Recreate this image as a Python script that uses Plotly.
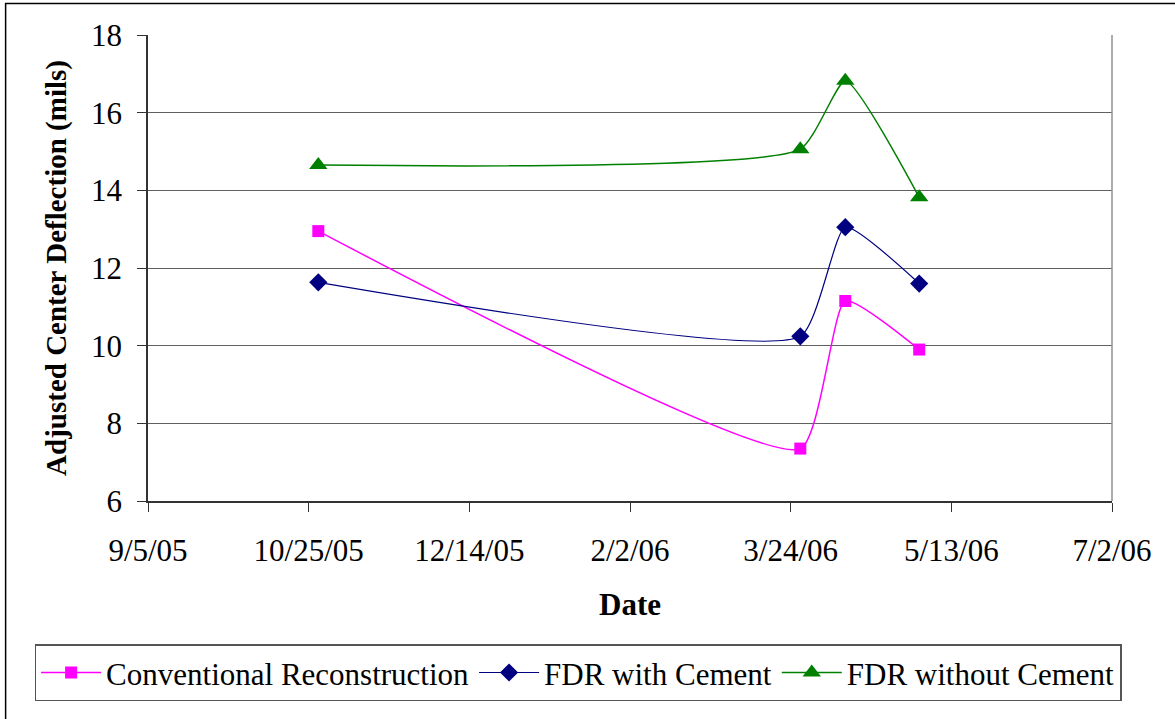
import plotly.graph_objects as go

dates = ["2005-10-28", "2006-03-27", "2006-04-10", "2006-05-03"]
conventional = [12.95, 7.35, 11.15, 9.9]
fdr_cement = [11.63, 10.24, 13.05, 11.6]
fdr_no_cement = [14.65, 15.06, 16.82, 13.82]

tick_dates = ["2005-09-05", "2005-10-25", "2005-12-14", "2006-02-02",
              "2006-03-24", "2006-05-13", "2006-07-02"]
tick_labels = ["9/5/05", "10/25/05", "12/14/05", "2/2/06",
               "3/24/06", "5/13/06", "7/2/06"]
y_ticks = [6, 8, 10, 12, 14, 16, 18]

FONT = "Liberation Serif"
SMOOTH = 0.5

fig = go.Figure()
fig.add_trace(go.Scatter(
    x=dates, y=conventional, name="Conventional Reconstruction",
    mode="lines+markers",
    line=dict(color="#FF00FF", width=1.5, shape="spline", smoothing=SMOOTH),
    marker=dict(symbol="square", size=12, color="#FF00FF")))
fig.add_trace(go.Scatter(
    x=dates, y=fdr_cement, name="FDR with Cement",
    mode="lines+markers",
    line=dict(color="#000080", width=1.2, shape="spline", smoothing=SMOOTH),
    marker=dict(symbol="diamond", size=14, color="#000080")))
fig.add_trace(go.Scatter(
    x=dates, y=fdr_no_cement, name="FDR without Cement",
    mode="lines+markers",
    line=dict(color="#008000", width=1.5, shape="spline", smoothing=SMOOTH),
    marker=dict(symbol="triangle-up", size=16, color="#008000")))

L, R, T, B = 147.5, 1112.3, 34.5, 501.0
W, H = 1175, 719
pw, ph = R - L, B - T

fig.update_layout(
    width=W, height=H,
    margin=dict(l=L, r=W - R, t=T, b=H - B, pad=0),
    paper_bgcolor="white", plot_bgcolor="white",
    font=dict(family=FONT, size=31, color="black"),
    showlegend=True,
    legend=dict(orientation="h", x=(34 - L) / pw, y=(B - 644.5) / ph,
                xanchor="left", yanchor="top",
                bordercolor="#555555", borderwidth=1.5,
                font=dict(family=FONT, size=31),
                tracegroupgap=0, itemwidth=60),
    xaxis=dict(type="date", range=["2005-09-05", "2006-07-02"],
               tickvals=tick_dates, ticktext=tick_labels,
               ticks="outside", ticklen=9, tickcolor="#333333",
               ticklabelstandoff=12,
               showgrid=False, zeroline=False,
               showline=True, linecolor="#333333", linewidth=1.5,
               mirror=False,
               title=dict(text="<b>Date</b>", font=dict(family=FONT, size=31), standoff=26),
               tickfont=dict(family=FONT, size=31)),
    yaxis=dict(range=[6, 18], tickvals=y_ticks,
               ticks="outside", ticklen=9, tickcolor="#333333",
               ticklabelstandoff=9,
               showgrid=True, gridcolor="#606060", gridwidth=1,
               zeroline=False, showline=True, linecolor="#333333", linewidth=1.5,
               title=dict(text="<b>Adjusted Center Deflection (mils)</b>",
                          font=dict(family=FONT, size=29), standoff=16),
               tickfont=dict(family=FONT, size=31)),
    shapes=[
        dict(type="line", xref="paper", yref="paper", x0=1, x1=1, y0=0, y1=1,
             line=dict(color="#909090", width=1.5)),
        dict(type="rect", xref="paper", yref="paper",
             x0=(5 - L) / pw, x1=(1185 - L) / pw,
             y0=(B - 730) / ph, y1=(B - 3) / ph,
             line=dict(color="black", width=1.5)),
    ],
)

fig.write_html("out.html")
